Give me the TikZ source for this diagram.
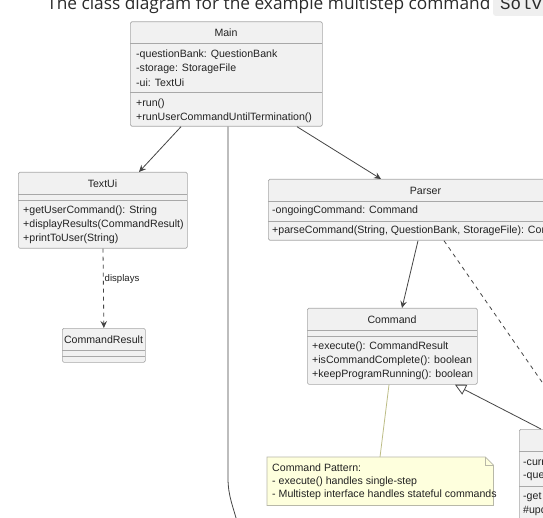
\documentclass[tikz,border=0pt]{standalone}
\usepackage{fontspec}
\setmainfont{Liberation Sans}
\newfontfamily\headfont{Open Sans}
\newfontfamily\codefont{Liberation Mono}
\usetikzlibrary{arrows.meta}
\definecolor{boxfill}{HTML}{F1F1F1}
\definecolor{boxborder}{HTML}{A8A8A8}
\definecolor{linecol}{HTML}{454545}
\definecolor{txtcol}{HTML}{222222}
\definecolor{notefill}{HTML}{FEFFDD}
\definecolor{noteborder}{HTML}{B8B8A8}
\definecolor{notelink}{HTML}{BDBD86}
\definecolor{headcol}{HTML}{2B2B2B}
\definecolor{codebg}{HTML}{EFEFEF}
\newcommand{\umlf}{\fontsize{10.6}{12}\selectfont}
\begin{document}
\begin{tikzpicture}[x=1pt,y=-1pt,
  umlbox/.style={draw=boxborder, fill=boxfill, rounded corners=1.5pt, line width=0.7pt, inner sep=0pt, anchor=north west},
  sepline/.style={draw=boxborder, line width=0.7pt},
  mem/.style={anchor=west, inner sep=0pt, font=\umlf, text=txtcol},
  ttl/.style={anchor=center, inner sep=0pt, font=\umlf, text=txtcol},
  assoc/.style={draw=linecol, line width=0.8pt, -{Stealth[length=7pt,width=6.5pt,inset=2.5pt]}},
  depend/.style={draw=linecol, line width=0.8pt, dash pattern=on 4pt off 4pt, -{Stealth[length=7pt,width=6.5pt,inset=2.5pt]}},
  plainlink/.style={draw=linecol, line width=0.8pt}
]
\useasboundingbox (0,0) rectangle (543,518);
\clip (0,0) rectangle (543,518);
\fill[white] (0,0) rectangle (543,518);

% heading
\fill[codebg, rounded corners=3pt] (493,-10) rectangle (580,16);
\node[anchor=base west, inner sep=0pt, font=\headfont\fontsize{17.3}{20}\selectfont, text=headcol] (head) at (47,9.5) {The class diagram for the example multistep command};
\node[anchor=base west, inner sep=0pt, font=\codefont\fontsize{17.5}{18}\selectfont, text=headcol] (code) at (500,9.5) {Solv};

% Main
\node[umlbox, minimum width=192pt, minimum height=104.5pt] (main) at (130,21.5) {};
\node[ttl] (mainT) at (226,32.5) {Main};
\draw[sepline] (130,43.5) -- (322,43.5);
\node[mem] (mainA1) at (136,54.5) {-questionBank: QuestionBank};
\node[mem] (mainA2) at (136,68.5) {-storage: StorageFile};
\node[mem] (mainA3) at (136,82.5) {-ui: TextUi};
\draw[sepline] (130,92.5) -- (322,92.5);
\node[mem] (mainM1) at (136,104) {+run()};
\node[mem] (mainM2) at (136,118) {+runUserCommandUntilTermination()};

% TextUi
\node[umlbox, minimum width=169pt, minimum height=76pt] (textui) at (18,172) {};
\node[ttl] (textuiT) at (102.5,184) {TextUi};
\draw[sepline] (18,194) -- (187,194);
\draw[sepline] (18,200) -- (187,200);
\node[mem] (textuiM1) at (23,211) {+getUserCommand(): String};
\node[mem] (textuiM2) at (23,225) {+displayResults(CommandResult)};
\node[mem] (textuiM3) at (23,239) {+printToUser(String)};

% CommandResult
\node[umlbox, minimum width=83pt, minimum height=34pt] (cres) at (62,328) {};
\node[ttl] (cresT) at (103.5,340) {CommandResult};
\draw[sepline] (62,350) -- (145,350);
\draw[sepline] (62,356) -- (145,356);

% Parser
\node[umlbox, minimum width=315pt, minimum height=61pt] (parser) at (268,179) {};
\node[ttl] (parserT) at (425.5,190.5) {Parser};
\draw[sepline] (268,201) -- (583,201);
\node[mem] (parserA1) at (272,211) {-ongoingCommand: Command};
\draw[sepline] (268,221) -- (583,221);
\node[mem] (parserM1) at (272,231) {+parseCommand(String, QuestionBank, StorageFile): Command};

% Command
\node[umlbox, minimum width=170pt, minimum height=76pt] (command) at (307,308) {};
\node[ttl] (commandT) at (392,320) {Command};
\draw[sepline] (307,330) -- (477,330);
\draw[sepline] (307,336) -- (477,336);
\node[mem] (commandM1) at (312,347) {+execute(): CommandResult};
\node[mem] (commandM2) at (312,361) {+isCommandComplete(): boolean};
\node[mem] (commandM3) at (312,375) {+keepProgramRunning(): boolean};

% right box (cut off)
\node[umlbox, minimum width=181pt, minimum height=131pt] (rbox) at (519,429) {};
\draw[sepline] (519,451) -- (700,451);
\node[mem] (rboxA1) at (523,463) {-curr};
\node[mem] (rboxA2) at (523,477) {-que};
\draw[sepline] (519,486) -- (700,486);
\node[mem] (rboxM1) at (523,497) {-get};
\node[mem] (rboxM2) at (523,511) {\#upd};

% note
\node[minimum width=226pt, minimum height=48pt, inner sep=0pt, anchor=north west] (note) at (267,457) {};
\draw[fill=notefill, draw=noteborder, line width=0.7pt]
  (note.north west) -- ([xshift=-8pt]note.north east) -- ([yshift=-8pt]note.north east) -- (note.south east) -- (note.south west) -- cycle;
\draw[draw=noteborder, line width=0.7pt]
  ([xshift=-8pt]note.north east) -- ([xshift=-8pt,yshift=-8pt]note.north east) -- ([yshift=-8pt]note.north east);
\node[mem] (noteL1) at (272,468) {Command Pattern:};
\node[mem] (noteL2) at (272,481.5) {- execute() handles single-step};
\node[mem] (noteL3) at (272,495) {- Multistep interface handles stateful commands};

% connectors
\coordinate (offb) at (238,525);
\coordinate (pd) at (560,408);
\draw[assoc] ([xshift=51pt]main.south west) -- ([xshift=121pt]textui.north west);
\draw[assoc] ([xshift=167pt]main.south west) -- ([xshift=113pt]parser.north west);
\draw[plainlink] ([xshift=98pt]main.south west) -- (228,478) .. controls (228,496) and (233,506) .. (offb);
\draw[assoc] ([xshift=150pt]parser.south west) -- ([xshift=95pt]command.north west);
\draw[plainlink, dash pattern=on 4pt off 4pt] ([xshift=176pt]parser.south west) -- (pd);
\draw[depend] ([xshift=85pt]textui.south west) -- (cres.north);
\node[anchor=west, inner sep=0pt, font=\fontsize{9.6}{11}\selectfont, text=txtcol] (displaysL) at (104.5,279) {displays};
\draw[draw=notelink, line width=0.8pt] ([xshift=82pt]command.south west) -- ([xshift=113pt]note.north west);
\draw[draw=linecol, line width=0.8pt, -{Triangle[open, length=11pt, width=11pt, fill=white]}] ([xshift=22pt]rbox.north west) -- ([xshift=148pt]command.south west);
\end{tikzpicture}
\end{document}
